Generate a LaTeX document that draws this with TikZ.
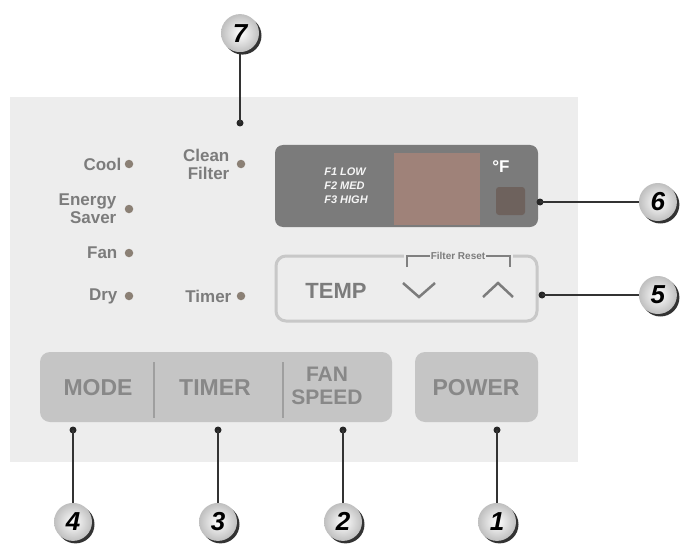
\documentclass[tikz,border=0pt]{standalone}
\usepackage{fontspec}
\setmainfont{Liberation Sans}
\usetikzlibrary{positioning,shadows}

\definecolor{panelgray}{HTML}{EDEDED}
\definecolor{labelgray}{HTML}{7C7C7C}
\definecolor{ledgray}{HTML}{8B8075}
\definecolor{keygray}{HTML}{C5C5C5}
\definecolor{keytext}{HTML}{888888}
\definecolor{dispgray}{HTML}{7B7B7B}
\definecolor{segamber}{HTML}{9F8279}
\definecolor{unitgray}{HTML}{6E625D}
\definecolor{rimgray}{HTML}{C8C8C8}

\begin{document}
\begin{tikzpicture} [
                x=1pt, y=-1pt,
                panellabel/.style={
                    font=\bfseries\fontsize{17}{18}\selectfont,
                    text=labelgray,
                    align=right,
                    inner sep=0pt
                },
                ledspot/.style={
                    circle,
                    fill=ledgray,
                    minimum size=8.5pt,
                    inner sep=0pt
                },
                keylabel/.style={
                    font=\bfseries\fontsize{23}{24}\selectfont,
                    text=keytext,
                    align=center,
                    inner sep=0pt
                },
                pinspot/.style={
                    circle,
                    fill=black!85,
                    minimum size=7pt,
                    inner sep=0pt
                },
                calloutnum/.style={
                    circle,
                    minimum size=38pt,
                    inner sep=0pt,
                    inner color=white,
                    outer color=gray!50,
                    drop shadow={shadow xshift=2.5pt, shadow yshift=-2.5pt, fill=black!80, opacity=1},
                    font=\bfseries\itshape\fontsize{26}{26}\selectfont
                },
                leader/.style={
                    draw=black!80,
                    line width=1.5pt
                }
            ]

                \useasboundingbox (0,0) rectangle (692,548);
                \fill[panelgray] (10,97) rectangle (578,462);

                % indicator lamps
                \node[ledspot]      (cooldot)       at (129,164)    {};
                \node[ledspot]      (saverdot)      at (129,209)    {};
                \node[ledspot]      (fandot)        at (129,253)    {};
                \node[ledspot]      (drydot)        at (129,296)    {};
                \node[ledspot]      (filterdot)     at (241,164)    {};
                \node[ledspot]      (timerdot)      at (241,296)    {};

                \node[panellabel]   (cool)      [left=3pt of cooldot]      {Cool};
                \node[panellabel]   (saver)     [left=8pt of saverdot]     {Energy\\Saver};
                \node[panellabel]   (fan)       [left=7pt of fandot]       {Fan};
                \node[panellabel]   (dry)       [left=7pt of drydot]       {Dry};
                \node[panellabel]   (filter)    [left=7pt of filterdot]    {Clean\\Filter};
                \node[panellabel]   (timer)     [left=5pt of timerdot]     {Timer};

                % display window
                \node[rectangle, rounded corners=8pt, fill=dispgray, minimum width=263pt, minimum height=82pt] (display) at (406.5,186) {};
                \fill[segamber] (394,153) rectangle (480,225);
                \node[rectangle, rounded corners=3pt, fill=unitgray, minimum width=29pt, minimum height=28pt] (unitled) at (510.5,201) {};
                \node[text=white, font=\bfseries\fontsize{17}{17}\selectfont, inner sep=0pt] (degf) at (501,167) {°F};
                \node[text=white!92!gray, font=\bfseries\itshape\fontsize{11}{14}\selectfont, align=left, inner sep=0pt] (fanspeeds) at (346,186) {F1 LOW\\F2 MED\\F3 HIGH};

                % temperature keys
                \node[rectangle, rounded corners=10pt, draw=rimgray, line width=3pt, minimum width=261pt, minimum height=65pt] (tempkeys) at (406.5,288.5) {};
                \fill[panelgray] (404,252) rectangle (513,260);
                \node[text=labelgray, font=\bfseries\fontsize{10}{10}\selectfont, inner sep=1pt] (filterreset) at (458,256) {Filter Reset};
                \draw[gray, line width=1.2pt] (407,267) -- (407,256) -- (filterreset.west);
                \draw[gray, line width=1.2pt] (filterreset.east) -- (510,256) -- (510,267);
                \node[keylabel, text=labelgray, font=\bfseries\fontsize{22}{22}\selectfont] (temp) at (336,291) {TEMP};
                \draw[labelgray, line width=2.5pt] (403,283) -- (419,297) -- (435,283);
                \draw[labelgray, line width=2.5pt] (483,297) -- (498,283) -- (513,297);

                % key strip
                \node[rectangle, rounded corners=10pt, fill=keygray, minimum width=352pt, minimum height=70pt] (keystrip) at (216,387) {};
                \node[rectangle, rounded corners=10pt, fill=keygray, minimum width=123pt, minimum height=70pt] (powerkey) at (476.5,387) {};
                \draw[gray!75, line width=1.5pt] (154,362) -- (154,418);
                \draw[gray!75, line width=1.5pt] (283,362) -- (283,418);
                \node[keylabel]     (mode)      at (98,388)     {MODE};
                \node[keylabel]     (timerkey)  at (215,388)    {TIMER};
                \node[keylabel, font=\bfseries\fontsize{21}{23}\selectfont] (fanspeed) at (327,386) {FAN\\SPEED};
                \node[keylabel]     (power)     at (476,388)    {POWER};

                % callouts
                \node[pinspot]      (pin7)      at (240,123)    {};
                \node[pinspot]      (pin6)      at (540,202)    {};
                \node[pinspot]      (pin5)      at (542,295)    {};
                \node[pinspot]      (pin4)      at (73,430)     {};
                \node[pinspot]      (pin3)      at (218,430)    {};
                \node[pinspot]      (pin2)      at (343,430)    {};
                \node[pinspot]      (pin1)      at (497,430)    {};

                \node[calloutnum]   (num7)      [above=67pt of pin7]    {7};
                \node[calloutnum]   (num6)      [right=95pt of pin6]    {6};
                \node[calloutnum]   (num5)      [right=93pt of pin5]    {5};
                \node[calloutnum]   (num4)      [below=69pt of pin4]    {4};
                \node[calloutnum]   (num3)      [below=69pt of pin3]    {3};
                \node[calloutnum]   (num2)      [below=69pt of pin2]    {2};
                \node[calloutnum]   (num1)      [below=69pt of pin1]    {1};

                \foreach \n in {1,...,7}
                    \draw[leader] (pin\n.center) -- (num\n);

            \end{tikzpicture}
\end{document}
